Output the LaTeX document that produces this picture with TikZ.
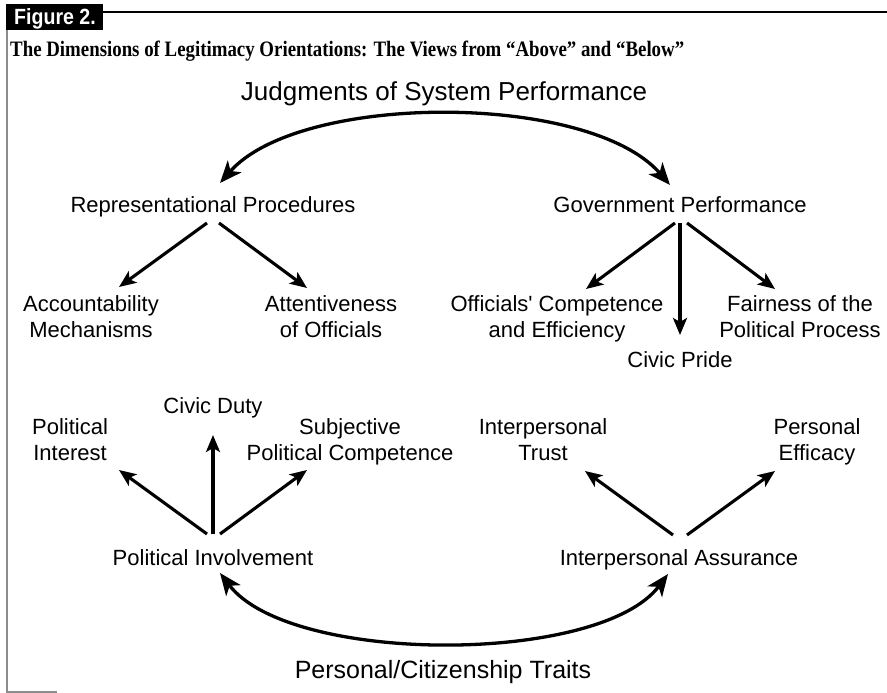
\documentclass[tikz,border=0pt]{standalone}
\usepackage{fontspec}
\setmainfont{Liberation Sans}
\newfontfamily\titleserif{Liberation Serif}
\usetikzlibrary{arrows.meta}
% straight (typewriter-style) apostrophe
\newcommand{\straightapos}{{\addfontfeature{Ligatures=TeXOff}'}}

\begin{document}
\begin{tikzpicture}[x=1pt,y=-1pt,
  lbl/.style={font=\fontsize{22}{26}\selectfont, inner sep=0pt, anchor=base, align=center},
  head/.style={font=\fontsize{26}{30}\selectfont, inner sep=0pt, anchor=base},
  link/.style={line width=3.1pt, -{Stealth[length=17pt,width=14pt,inset=4pt]}},
  swing/.style={line width=3.3pt,
    {Stealth[length=22pt,width=18pt,inset=6pt]}-{Stealth[length=22pt,width=18pt,inset=6pt]}},
]
\useasboundingbox (0,0) rectangle (887,693);

% frame and caption
\draw[line width=2.5pt] (6,12) -- (887,12);
\draw[line width=2pt, black!45] (7,30) -- (7,692) -- (57,692);
\fill (6,4) rectangle (103,30);
\node[anchor=base, text=white, inner sep=0pt] (fig) at (55,25)
  {\scalebox{0.89}[1]{\bfseries\fontsize{22}{24}\selectfont Figure 2.}};
\node[anchor=base west, inner sep=0pt] (title) at (10,57)
  {\scalebox{0.857}[1]{\titleserif\bfseries\fontsize{22}{24}\selectfont The Dimensions of Legitimacy Orientations: The Views from “Above” and “Below”}};

% upper half: judgments of system performance
% (two-line labels are placed by the baseline of their last line)
\node[head] (jsp) at (444,101) {Judgments of System Performance};
\node[lbl] (rp) at (213,212) {Representational Procedures};
\node[lbl] (gp) at (680,212) {Government Performance};
\node[lbl] (acc) at (91,337) {Accountability\\Mechanisms};
\node[lbl] (att) at (331,337) {Attentiveness\\of Officials};
\node[lbl] (oce) at (557,337) {Officials\straightapos{} Competence\\and Efficiency};
\node[lbl] (cp) at (680,367) {Civic Pride};
\node[lbl] (fair) at (800,337) {Fairness of the\\Political Process};

% lower half: personal / citizenship traits
\node[lbl] (pint) at (70,460) {Political\\Interest};
\node[lbl] (cd) at (213,413) {Civic Duty};
\node[lbl] (spc) at (350,460) {Subjective\\Political Competence};
\node[lbl] (pi) at (213,565) {Political Involvement};
\node[lbl] (it) at (543,460) {Interpersonal\\Trust};
\node[lbl] (pe) at (817,460) {Personal\\Efficacy};
\node[lbl] (ia) at (679,565) {Interpersonal Assurance};
\node[head, font=\fontsize{25}{29}\selectfont] (pct) at (443,678) {Personal/Citizenship Traits};

% arc between the two performance dimensions
\draw[swing] ([xshift=7pt,yshift=29pt]rp.base) .. controls (300,92) and (590,92) .. ([xshift=-10pt,yshift=27pt]gp.base);

% representational procedures
\draw[link] ([xshift=-6pt,yshift=-11pt]rp.base) -- ([xshift=28pt,yshift=50pt]acc.base);
\draw[link] ([xshift=6pt,yshift=-11pt]rp.base) -- ([xshift=-24pt,yshift=49pt]att.base);

% government performance
\draw[link] ([xshift=-5pt,yshift=-11pt]gp.base) -- ([xshift=29pt,yshift=48pt]oce.base);
\draw[link] ([yshift=-11pt]gp.base) -- ([yshift=32pt]cp.base);
\draw[link] ([xshift=7pt,yshift=-11pt]gp.base) -- ([xshift=-25pt,yshift=48pt]fair.base);

% political involvement
\draw[link] ([xshift=-6pt,yshift=31pt]pi.base) -- ([xshift=49pt,yshift=-10pt]pint.base);
\draw[link] ([yshift=31pt]pi.base) -- ([yshift=-22pt]cd.base);
\draw[link] ([xshift=7pt,yshift=31pt]pi.base) -- ([xshift=-43pt,yshift=-10pt]spc.base);

% interpersonal assurance
\draw[link] ([xshift=-6pt,yshift=30pt]ia.base) -- ([xshift=42pt,yshift=-11pt]it.base);
\draw[link] ([xshift=8pt,yshift=30pt]ia.base) -- ([xshift=-42pt,yshift=-11pt]pe.base);

% arc between the two trait dimensions
\draw[swing] ([xshift=7pt,yshift=-8pt]pi.base) .. controls (290,665) and (600,665) .. ([xshift=-11pt,yshift=-9pt]ia.base);
\end{tikzpicture}
\end{document}
